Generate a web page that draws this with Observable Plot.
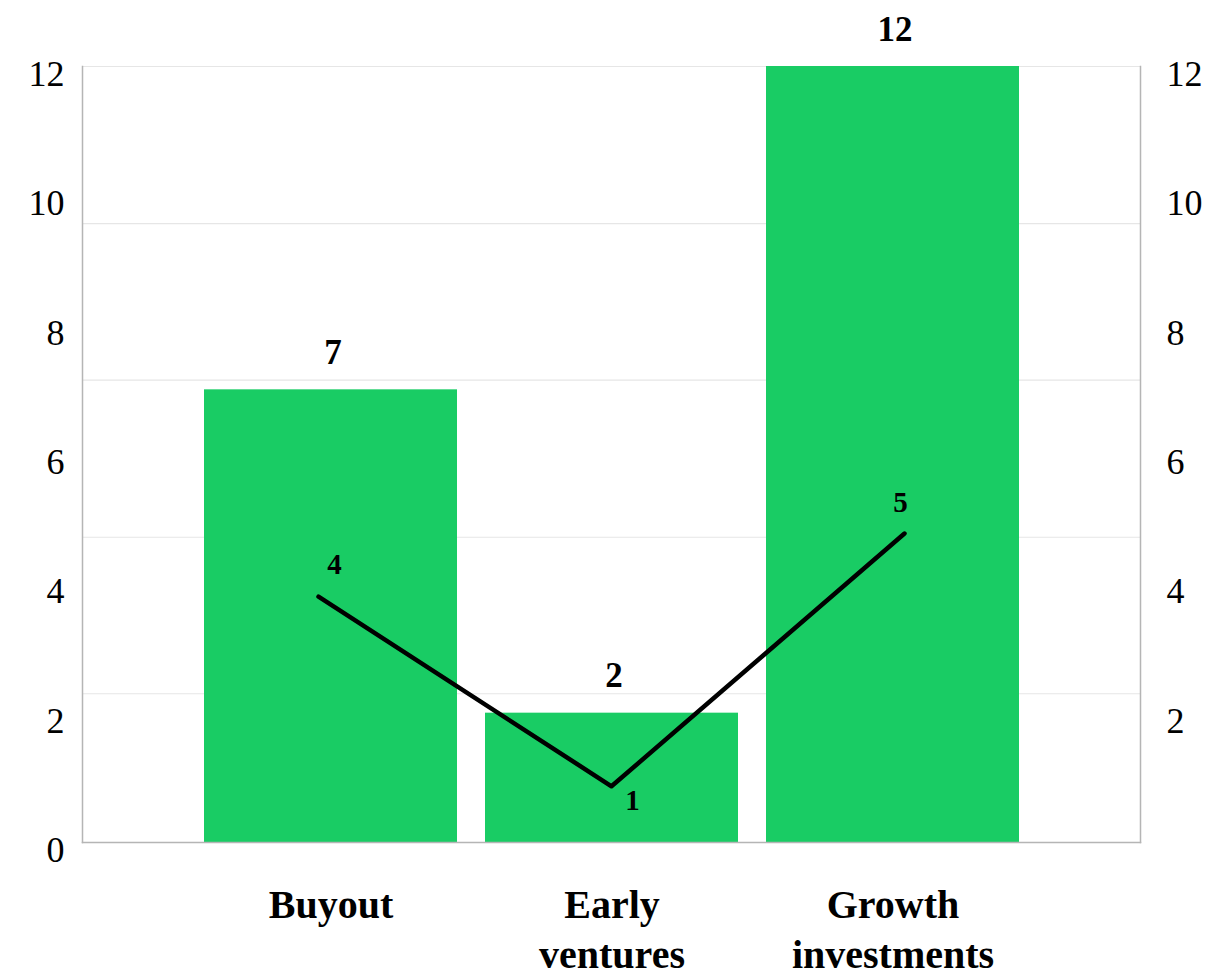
<!DOCTYPE html>
<html>
<head>
<meta charset="utf-8">
<script src="https://cdn.jsdelivr.net/npm/d3@7"></script>
<script src="https://cdn.jsdelivr.net/npm/@observablehq/plot@0.6"></script>
<style>
  html, body { margin: 0; padding: 0; background: #fff; }
  #chart { position: relative; width: 1215px; height: 978px; }
  #chart svg { position: absolute; left: 0; top: 0; }
</style>
</head>
<body>
<div id="chart"></div>
<script>
// ---- data ----
const categories = ["Buyout", "Early ventures", "Growth investments"];
const axisLabels = ["Buyout", "Early\nventures", "Growth\ninvestments"];
const barValues = [7, 2, 12];
const lineValues = [4, 1, 5];
const leftTicks = [0, 2, 4, 6, 8, 10, 12];
const rightTicks = [2, 4, 6, 8, 10, 12];
const gridValues = [2.3, 4.72, 7.15, 9.57, 12];
const lineDomain = [0, 12.39];

const data = categories.map((c, i) => ({category: c, label: axisLabels[i], bar: barValues[i], line: lineValues[i]}));

const font = "'Liberation Serif', 'Times New Roman', serif";
const W = 1215, H = 978;

// ---- bar chart (left scale) ----
const barChart = Plot.plot({
  width: W, height: H,
  marginLeft: 82, marginRight: 75, marginTop: 66, marginBottom: 136,
  x: {type: "band", domain: categories, paddingInner: 0.1, paddingOuter: 0.426, label: null, axis: null},
  y: {domain: [0, 12], label: null, axis: null},
  style: {fontFamily: font, color: "#000", background: "#fff"},
  marks: [
    Plot.ruleY(gridValues, {stroke: "#e6e6e6", strokeWidth: 1.2}),
    Plot.barY(data, {x: "category", y: "bar", fill: "#19cc64"}),
    Plot.frame({anchor: "left", stroke: "#b5b5b5", strokeWidth: 1.5}),
    Plot.frame({anchor: "right", stroke: "#b5b5b5", strokeWidth: 1.5}),
    Plot.frame({anchor: "bottom", stroke: "#b5b5b5", strokeWidth: 1.5}),
    Plot.axisY(leftTicks, {anchor: "left", tickSize: 0, tickPadding: 18, fontSize: 36, dy: 8, tickFormat: d => String(d), label: null}),
    Plot.axisY(rightTicks, {anchor: "right", tickSize: 0, tickPadding: 26, fontSize: 36, dy: 8, tickFormat: d => String(d), label: null}),
    Plot.text(data, {x: "category", text: "label", frameAnchor: "bottom", lineAnchor: "top", dy: 39, lineHeight: 1.27, fontSize: 40, fontWeight: "bold"}),
    Plot.text(data, {x: "category", y: "bar", text: d => String(d.bar), dy: -37, dx: 2, fontSize: 35, fontWeight: "bold"})
  ]
});

// ---- line chart overlay (secondary scale) ----
const lbl = (cat, dx, dy) => Plot.text(data.filter(d => d.category === cat), {
  x: "category", y: "line", text: d => String(d.line), dx, dy, fontSize: 29, fontWeight: "bold"
});
const lineChart = Plot.plot({
  width: W, height: H,
  marginLeft: 82, marginRight: 75, marginTop: 66, marginBottom: 129,
  x: {type: "point", domain: categories, padding: 0.805, axis: null},
  y: {domain: lineDomain, axis: null},
  style: {fontFamily: font, color: "#000", background: "transparent"},
  marks: [
    Plot.line(data, {x: "category", y: "line", stroke: "#000", strokeWidth: 4.5, strokeLinecap: "round"}),
    lbl("Buyout", 16, -32),
    lbl("Early ventures", 21, 14),
    lbl("Growth investments", -4, -31)
  ]
});

const el = document.getElementById("chart");
el.appendChild(barChart);
el.appendChild(lineChart);
</script>
</body>
</html>
